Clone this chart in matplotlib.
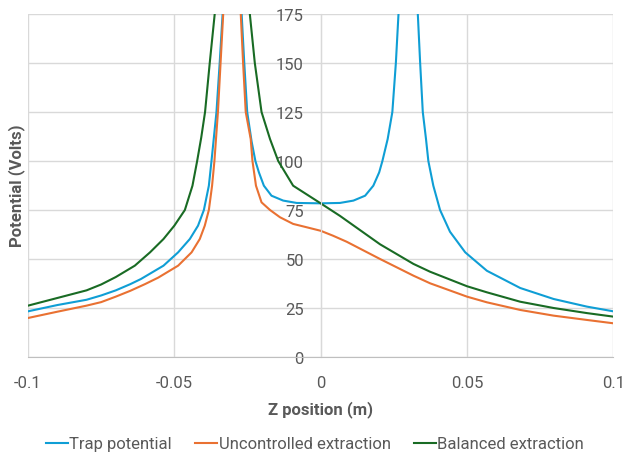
# Recreate Excel-style potential chart
import matplotlib
matplotlib.use('Agg')
import matplotlib.pyplot as plt

# Colours (Office theme)
c_trap = '#0F9ED5'
c_unc = '#E97132'
c_bal = '#196B24'
c_text = '#595959'
c_grid = '#d9d9d9'

# Data (values above 175 are off-chart peaks)
trap_x = [-0.1, -0.09, -0.08, -0.075, -0.07, -0.065, -0.0614, -0.0537, -0.0487, -0.0447,
          -0.0419, -0.0399, -0.0382, -0.0373, -0.0356, -0.0345, -0.0335, -0.0303, -0.0270,
          -0.0261, -0.0251, -0.0236, -0.0223, -0.0211, -0.0194, -0.0168, -0.0128, -0.0082,
          0.0, 0.0066, 0.0112, 0.0152, 0.018, 0.020, 0.0211, 0.0229, 0.0245, 0.0257, 0.0266,
          0.030, 0.0332, 0.0340, 0.0349, 0.0360, 0.0368, 0.0385, 0.0408, 0.0442, 0.0494,
          0.0568, 0.0682, 0.0796, 0.091, 0.1]
trap_y = [23.3, 26.5, 29.2, 31.4, 34.0, 37.2, 39.8, 46.6, 53.4, 60.2,
          67.0, 75.0, 87.4, 100, 125, 150, 175, 400, 175,
          150, 125, 110, 100, 94.2, 87.4, 82.3, 79.8, 78.6,
          78.4, 78.6, 79.8, 82.3, 87.4, 94.2, 100, 111.2, 125, 150, 175,
          400, 175, 150, 125, 111.2, 100, 87.4, 75.0, 63.9, 53.4,
          44.0, 35.2, 29.6, 25.7, 23.3]

unc_x = [-0.1, -0.09, -0.08, -0.075, -0.07, -0.065, -0.06, -0.0555, -0.0487, -0.0441,
         -0.0413, -0.0396, -0.0382, -0.0371, -0.0363, -0.0351, -0.0342, -0.0333, -0.0303,
         -0.0273, -0.0265, -0.0256, -0.0239, -0.0233, -0.0221, -0.0202, -0.0173, -0.0139,
         -0.0094, -0.0048, 0.0, 0.0042, 0.0089, 0.0203, 0.0317, 0.0374, 0.05, 0.0568,
         0.0682, 0.0796, 0.091, 0.1]
unc_y = [19.9, 23.1, 26.2, 28.0, 30.8, 33.8, 37.2, 40.5, 46.6, 53.4,
         60.2, 67.0, 75.0, 87.4, 100, 125, 150, 175, 400,
         175, 150, 125, 111.2, 100, 87.4, 78.9, 75.0, 71.3,
         67.9, 66.2, 64.4, 61.9, 58.8, 50.0, 41.5, 37.6, 30.8, 27.9,
         24.0, 21.1, 18.9, 17.2]

bal_x = [-0.1, -0.09, -0.08, -0.075, -0.07, -0.0635, -0.0583, -0.0537, -0.05, -0.0464,
         -0.0438, -0.0422, -0.0408, -0.0395, -0.0379, -0.0362, -0.0300, -0.0242, -0.0225,
         -0.0202, -0.0173, -0.0145, -0.0094, 0.0, 0.0066, 0.0203, 0.0317, 0.0374, 0.05,
         0.0568, 0.0682, 0.0796, 0.091, 0.1]
bal_y = [26.2, 30.1, 34.0, 37.0, 40.8, 46.6, 53.4, 60.2, 67.0, 75.0,
         87.4, 100, 112, 125, 150, 175, 400, 175, 150,
         125, 111.2, 100, 87.4, 78.4, 72.0, 57.5, 47.5, 43.5, 36.1,
         33.0, 28.2, 25.0, 22.4, 20.6]

x_ticks = [-0.1, -0.05, 0, 0.05, 0.1]
x_labels = ['-0.1', '-0.05', '0', '0.05', '0.1']
y_ticks = [0, 25, 50, 75, 100, 125, 150, 175]

plt.rcParams['font.family'] = ['Roboto', 'DejaVu Sans']

fig = plt.figure(figsize=(6.26, 4.60), dpi=100)
ax = fig.add_axes([28 / 626, 102 / 460, (613.3 - 28) / 626, (358 - 15) / 460])

ax.plot(trap_x, trap_y, color=c_trap, lw=1.5, label='Trap potential')
ax.plot(unc_x, unc_y, color=c_unc, lw=1.5, label='Uncontrolled extraction')
ax.plot(bal_x, bal_y, color=c_bal, lw=1.5, label='Balanced extraction')

ax.set_xlim(-0.1, 0.1)
ax.set_ylim(0, 175)
ax.set_xticks(x_ticks)
ax.set_xticklabels(x_labels)
ax.set_yticks(y_ticks)

# Grid
ax.grid(True, color=c_grid, lw=1.0)
ax.set_axisbelow(True)

# Spines: y axis crosses at x = 0
for s in ['top', 'right']:
    ax.spines[s].set_visible(False)
ax.spines['left'].set_position(('data', 0))
ax.spines['left'].set_color(c_grid)
ax.spines['bottom'].set_color('#bfbfbf')

ax.tick_params(axis='both', length=0, labelsize=12, labelcolor=c_text)
ax.tick_params(axis='x', pad=13)
ax.tick_params(axis='y', pad=12)

# Axis titles
fig.text(0.5 * (28 + 613.3) / 626, 1 - 410 / 460, 'Z position (m)', ha='center', va='center',
         fontsize=12, fontweight='bold', color=c_text)
fig.text(17 / 626, 1 - 186 / 460, 'Potential (Volts)', ha='center', va='center',
         rotation=90, fontsize=12, fontweight='bold', color=c_text)

# Legend
fig.legend(loc='center', bbox_to_anchor=(315 / 626, 1 - 445 / 460), ncol=3, frameon=False,
           fontsize=12, handlelength=1.3, handletextpad=0.1, columnspacing=1.4,
           labelcolor=c_text)

fig.savefig('out.png', dpi=100)
